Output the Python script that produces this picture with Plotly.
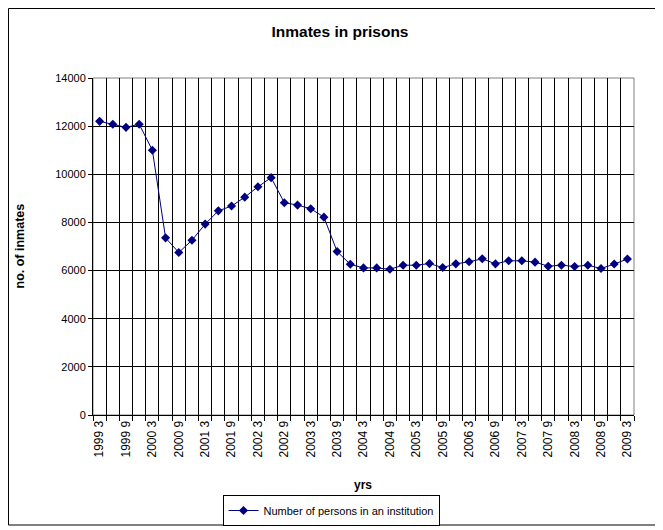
import plotly.graph_objects as go

years_quarters = []
for y in range(1999, 2010):
    for m in (3, 6, 9, 12):
        if y == 2009 and m > 3:
            break
        years_quarters.append(f"{y} {m}")

categories = years_quarters
inmates = [12200, 12080, 11950, 12080, 11000, 7360, 6750, 7260, 7930, 8480,
           8680, 9050, 9480, 9860, 8820, 8720, 8570, 8220, 6790, 6260,
           6110, 6110, 6055, 6224, 6224, 6290, 6126, 6280, 6364, 6490,
           6280, 6406, 6406, 6350, 6182, 6224, 6170, 6224, 6084, 6270, 6480]
tick_labels = categories[::2]
y_ticks = [0, 2000, 4000, 6000, 8000, 10000, 12000, 14000]

series_name = "Number of persons in an institution"
title_text = "Inmates in prisons"
x_title = "yrs"
y_title = "no. of inmates"

idx = list(range(len(categories)))
FONT = "Liberation Sans, Arial, sans-serif"
OFF = 8  # page body margin offset
W, H = 663 - OFF, 530 - OFF
# plot area in page pixels
PL, PR, PT, PB = 93, 634, 78, 415
L, T = PL - OFF, PT - OFF
R = W - (PR - OFF)
B = H - (PB - OFF)
pw = W - L - R
ph = H - T - B


def px(xp):
    return (xp - OFF - L) / pw


def py(yp):
    return (H - B - (yp - OFF)) / ph


fig = go.Figure()
fig.add_trace(go.Scatter(
    x=idx, y=inmates, mode="lines+markers", name=series_name,
    line=dict(color="#000080", width=1),
    marker=dict(symbol="diamond", size=7, color="#000080"),
))

fig.update_layout(
    width=W, height=H,
    margin=dict(l=L, r=R, t=T, b=B, autoexpand=False),
    paper_bgcolor="white", plot_bgcolor="white",
    font=dict(family=FONT, size=11, color="black"),
    title=dict(text=f"<b>{title_text}</b>", x=(340 - OFF) / W, xanchor="center",
               y=1 - (32 - OFF) / H, yanchor="middle",
               font=dict(size=15.5, family=FONT)),
    showlegend=True,
    legend=dict(orientation="h", x=px(331), xanchor="center",
                y=py(526), yanchor="bottom",
                bordercolor="black", borderwidth=1, bgcolor="white",
                font=dict(size=11, family=FONT),
                itemwidth=30),
    xaxis=dict(
        range=[-0.5, len(categories) - 0.5],
        tickmode="array", tickvals=idx[::2], ticktext=tick_labels,
        tickangle=-90, showgrid=False, ticks="", zeroline=False,
        showline=True, linecolor="black", linewidth=1, automargin=False,
        tickfont=dict(size=12, family=FONT),
        minor=dict(tickmode="linear", tick0=-0.5, dtick=1, showgrid=True,
                   gridcolor="black", gridwidth=1, ticks="outside",
                   ticklen=5, tickcolor="black", tickwidth=1),
    ),
    yaxis=dict(
        range=[0, 14000], tickmode="array", tickvals=y_ticks,
        tickformat="d",
        showgrid=True, gridcolor="black", gridwidth=1,
        ticks="outside", ticklen=4, tickcolor="black", automargin=False,
        showline=True, linecolor="black", linewidth=1, zeroline=False,
        tickfont=dict(size=11, family=FONT),
    ),
)

# plot area border
fig.add_shape(type="rect", xref="paper", yref="paper", x0=0, x1=1, y0=0, y1=1,
              line=dict(color="#808080", width=1), layer="below")

# axis titles
fig.add_annotation(text=f"<b>{x_title}</b>", xref="paper", yref="paper",
                   x=px(363), y=py(485), showarrow=False,
                   xanchor="center", yanchor="middle",
                   font=dict(size=12, family=FONT))
fig.add_annotation(text=f"<b>{y_title}</b>", xref="paper", yref="paper",
                   x=px(19), y=0.5, showarrow=False, textangle=-90,
                   xanchor="center", yanchor="middle",
                   font=dict(size=12.5, family=FONT))

# outer chart border
fig.add_shape(type="rect", xref="paper", yref="paper",
              x0=px(8.5), x1=px(658), y0=py(525), y1=py(8.5),
              line=dict(color="black", width=1))

fig.write_html("out.html")
